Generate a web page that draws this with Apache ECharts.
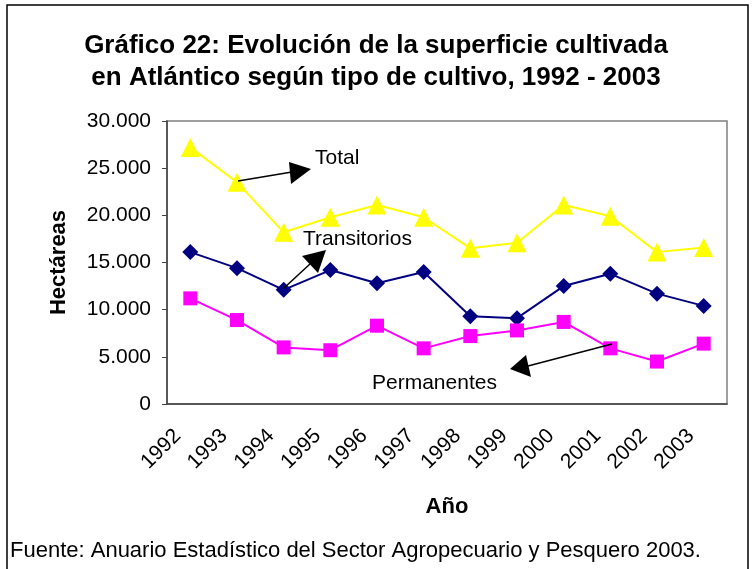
<!DOCTYPE html>
<html>
<head>
<meta charset="utf-8">
<script src="https://cdn.jsdelivr.net/npm/echarts@6/dist/echarts.min.js"></script>
<style>
  html, body { margin: 0; padding: 0; background: #fff; }
  #chart { width: 752px; height: 569px; }
</style>
</head>
<body>
<div id="chart"></div>
<script>
const years = ['1992', '1993', '1994', '1995', '1996', '1997', '1998', '1999', '2000', '2001', '2002', '2003'];
const total = [27200, 23500, 18200, 19800, 21100, 19800, 16500, 17100, 21100, 19900, 16100, 16600];
const transitorios = [16100, 14400, 12100, 14200, 12800, 14000, 9300, 9100, 12500, 13800, 11700, 10400];
const permanentes = [11200, 8900, 6000, 5700, 8300, 5900, 7200, 7800, 8700, 5900, 4500, 6400];

const font = 'Liberation Sans, Arial, sans-serif';
const chart = echarts.init(document.getElementById('chart'));

const fmt = (v) => String(v).replace(/\B(?=(\d{3})+(?!\d))/g, '.');

// flechas de las anotaciones
const arrow = (pts, head) => [
  { type: 'polyline', shape: { points: pts }, style: { stroke: '#000', lineWidth: 1.5 }, z: 10 },
  { type: 'polygon', shape: { points: head }, style: { fill: '#000' }, z: 10 }
];

const label = (text, x, y) => ({
  type: 'text', x: x, y: y, z: 10,
  style: { text: text, font: '21px ' + font, fill: '#000', verticalAlign: 'middle' }
});

const option = {
  animation: false,
  textStyle: { fontFamily: font },
  title: {
    text: 'Gráfico 22: Evolución de la superficie cultivada\nen Atlántico según tipo de cultivo, 1992 - 2003',
    left: 'center',
    top: 25,
    textStyle: { fontSize: 26, fontWeight: 'bold', color: '#000', lineHeight: 32, fontFamily: font }
  },
  grid: {
    left: 167, top: 121, right: 25, bottom: 165,
    show: true, borderColor: '#808080', borderWidth: 1.5
  },
  xAxis: {
    type: 'category',
    data: years,
    boundaryGap: true,
    name: 'Año',
    nameLocation: 'middle',
    nameGap: 92,
    nameTextStyle: { fontSize: 22, fontWeight: 'bold', color: '#000' },
    axisLine: { lineStyle: { color: '#404040', width: 1.5 } },
    axisTick: { length: 5, lineStyle: { color: '#404040' } },
    axisLabel: { rotate: 45, fontSize: 21, color: '#000', margin: 16, padding: [0, 18, 0, 0], interval: 0 }
  },
  yAxis: {
    type: 'value',
    min: 0, max: 30000, interval: 5000,
    name: 'Hectáreas',
    nameLocation: 'middle',
    nameGap: 97,
    nameTextStyle: { fontSize: 22, fontWeight: 'bold', color: '#000' },
    axisLine: { show: true, lineStyle: { color: '#404040', width: 1.5 } },
    axisTick: { show: true, length: 5, lineStyle: { color: '#404040' } },
    splitLine: { show: false },
    axisLabel: { fontSize: 21, color: '#000', margin: 16, formatter: fmt }
  },
  series: [
    {
      name: 'Total', type: 'line', data: total,
      symbol: 'triangle', symbolSize: 19,
      lineStyle: { color: '#FFFF00', width: 2 },
      itemStyle: { color: '#FFFF00' }
    },
    {
      name: 'Transitorios', type: 'line', data: transitorios,
      symbol: 'diamond', symbolSize: 16,
      lineStyle: { color: '#000080', width: 2 },
      itemStyle: { color: '#000080' }
    },
    {
      name: 'Permanentes', type: 'line', data: permanentes,
      symbol: 'rect', symbolSize: 14,
      lineStyle: { color: '#FF00FF', width: 2 },
      itemStyle: { color: '#FF00FF' }
    }
  ],
  graphic: [
    { type: 'rect', shape: { x: 7, y: 5, width: 741, height: 620 }, style: { fill: 'none', stroke: '#000', lineWidth: 1.5 }, z: 0 },
    ...arrow([[238, 181], [292, 172]], [[289, 162], [311, 169], [291, 184]]),
    ...arrow([[284, 288], [310, 264]], [[302, 256], [326, 250], [318, 273]]),
    ...arrow([[612, 344], [528, 366]], [[526, 355], [510, 369], [531, 377]]),
    label('Total', 315, 158),
    label('Transitorios', 303, 239),
    label('Permanentes', 372, 383),
    {
      type: 'text', x: 10, y: 551, z: 10,
      style: { text: 'Fuente: Anuario Estadístico del Sector Agropecuario y Pesquero 2003.', font: '22px ' + font, fill: '#000', verticalAlign: 'middle' }
    }
  ]
};

chart.setOption(option);
</script>
</body>
</html>
